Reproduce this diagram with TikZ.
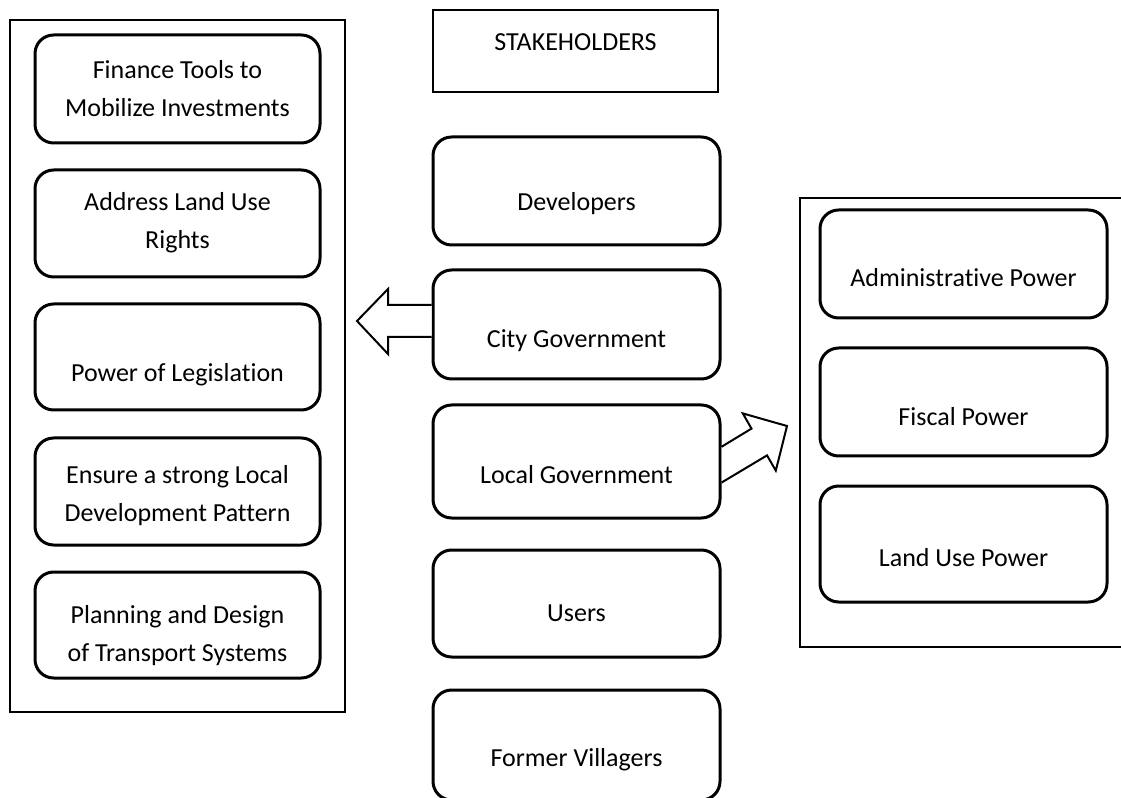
\documentclass[tikz,border=0pt]{standalone}
\usepackage{fontspec}
\setmainfont{Carlito}[Ligatures={NoCommon,NoContextual}]
\usetikzlibrary{calc}
\newcommand{\pxu}{0.75pt}
\tikzset{
  item/.style={draw, line width=2.25pt, rounded corners=14pt, inner sep=0pt},
  frame/.style={draw, line width=1.5pt},
  lbl/.style={align=center, inner sep=0pt, font=\fontsize{19.5}{28.5}\selectfont},
  blockarrow/.style={draw, line width=1.5pt, fill=white, line join=miter},
}
\begin{document}
\begin{tikzpicture}[x=0.75pt, y=-0.75pt]
\clip (0,0) rectangle (1121,798);
\fill[white] (0,0) rectangle (1121,798);

% outer frames
\node[frame, minimum width=335*\pxu, minimum height=692*\pxu, inner sep=0pt] (leftframe) at (177.5,366) {};
\draw[frame] (1130,198) coordinate (rt) -- (800,198) -- (800,647) -- (1130,647) coordinate (rb);
\node[draw, line width=1.9pt, minimum width=285*\pxu, minimum height=82*\pxu, inner sep=0pt] (stake) at (575.5,51) {};
\node[lbl] (staket) at (575.5,42) {STAKEHOLDERS};

% left column
\node[item, minimum width=285*\pxu, minimum height=108*\pxu] (fin) at (177.5,89) {};
\node[item, minimum width=285*\pxu, minimum height=107*\pxu] (land) at (177.5,223.5) {};
\node[item, minimum width=285*\pxu, minimum height=106*\pxu] (legis) at (177.5,357) {};
\node[item, minimum width=285*\pxu, minimum height=107*\pxu] (ensure) at (177.5,491.5) {};
\node[item, minimum width=285*\pxu, minimum height=106*\pxu] (plan) at (177.5,625) {};
\node[lbl] (fint) at (177.5,89) {Finance Tools to\\Mobilize Investments};
\node[lbl] (landt) at (177.5,222.5) {Address Land Use\\Rights};
\node[lbl] (legist) at (177.5,375) {Power of Legislation};
\node[lbl] (ensuret) at (177.5,495.5) {Ensure a strong Local\\Development Pattern};
\node[lbl] (plant) at (177.5,636) {Planning and Design\\of Transport Systems};

% middle column
\node[item, minimum width=287*\pxu, minimum height=108*\pxu] (dev) at (576.5,191) {};
\node[item, minimum width=287*\pxu, minimum height=109*\pxu] (city) at (576.5,324.5) {};
\node[item, minimum width=287*\pxu, minimum height=113*\pxu] (local) at (576.5,461.5) {};
\node[item, minimum width=287*\pxu, minimum height=107*\pxu] (users) at (576.5,603.5) {};
\node[item, minimum width=287*\pxu, minimum height=110*\pxu] (former) at (576.5,745) {};
\node[lbl] (devt) at (576.5,204) {Developers};
\node[lbl] (cityt) at (576.5,341) {City Government};
\node[lbl] (localt) at (576.5,475) {Local Government};
\node[lbl] (userst) at (576.5,613) {Users};
\node[lbl] (formert) at (576.5,760) {Former Villagers};

% right column
\node[item, minimum width=287*\pxu, minimum height=108*\pxu] (admin) at (963.5,264) {};
\node[item, minimum width=287*\pxu, minimum height=108*\pxu] (fiscal) at (963.5,402) {};
\node[item, minimum width=287*\pxu, minimum height=116*\pxu] (landuse) at (963.5,544) {};
\node[lbl] (admint) at (963.5,278) {Administrative Power};
\node[lbl] (fiscalt) at (963.5,417) {Fiscal Power};
\node[lbl] (landuset) at (963.5,558) {Land Use Power};

% block arrow from the city government box to the left frame
\draw[blockarrow] (city.west |- 0,305) -- (388,305) -- (388,289) -- (357,321)
  -- (388,354) -- (388,337) -- (city.west |- 0,337);

% block arrow from the local government box up to the right frame
\draw[blockarrow] (local.east |- 0,446.8) -- (751.5,428.6) -- (742.8,413.4) -- (787,426)
  -- (775.8,470.6) -- (767,455.4) -- (local.east |- 0,482.6);
\end{tikzpicture}
\end{document}
